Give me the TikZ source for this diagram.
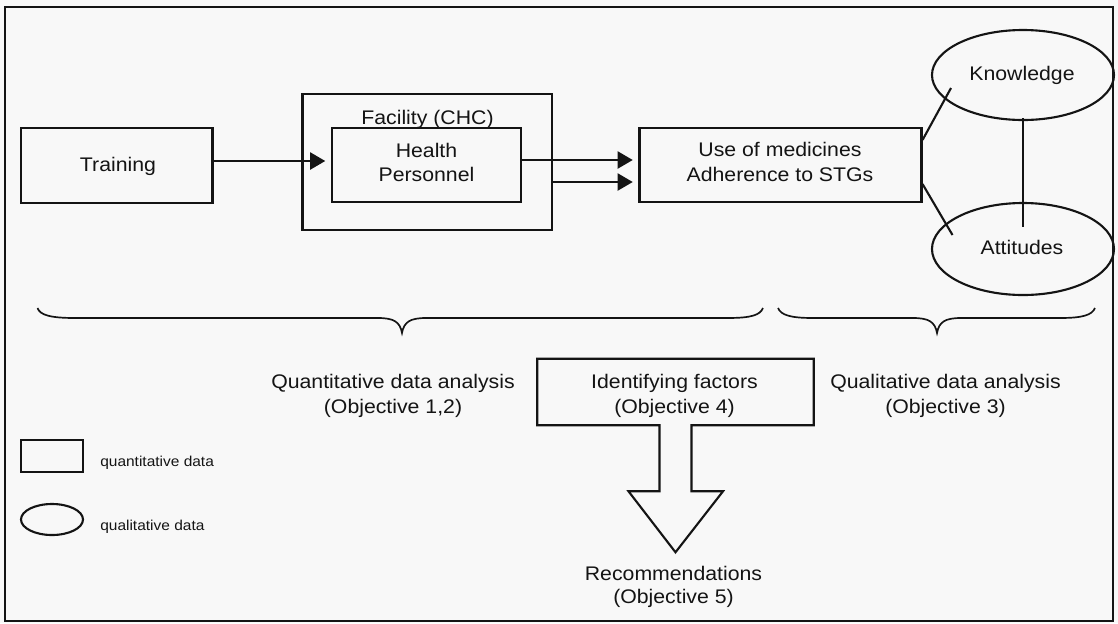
\documentclass[tikz,border=0pt]{standalone}
\usepackage{fontspec}
\setmainfont{Liberation Sans}[FakeStretch=1.08]
\usetikzlibrary{shapes.geometric,arrows.meta,calc}
\definecolor{ink}{RGB}{20,20,20}
\definecolor{paper}{RGB}{248,248,248}
\begin{document}
\begin{tikzpicture}[x=0.25mm,y=-0.25mm,
  line join=miter,
  ink/.style={draw=ink, line width=1.5pt},
  boxn/.style={ink, rectangle, inner sep=0pt},
  ell/.style={ink, ellipse, inner sep=0pt},
  txt/.style={anchor=base, inner sep=0pt, text=ink, font=\fontsize{14}{17}\selectfont},
  small/.style={anchor=base west, inner sep=0pt, text=ink, font=\fontsize{10.2}{12}\selectfont},
  arr/.style={draw=ink, line width=2.1pt, -{Triangle[length=3.8mm,width=4.2mm]}, shorten >=4pt},
  ln/.style={draw=ink, line width=1.5pt},
  brc/.style={draw=ink, line width=1.2pt}
]
\useasboundingbox (0,0) rectangle (1118,623);
\fill[paper] (0,0) rectangle (1118,623);
\draw[ink] (5,7) rectangle (1113,621);

% boxes
\node[boxn, minimum width=47.875mm, minimum height=18.75mm] (train) at (116.75,165.5) {};
\node[boxn, minimum width=62.375mm, minimum height=34mm] (fac) at (427.25,162) {};
\node[boxn, minimum width=47.25mm, minimum height=18.5mm] (hp) at (426.5,165) {};
\node[boxn, minimum width=70.5mm, minimum height=18.5mm] (use) at (780.5,165) {};
\node[ell, minimum width=45.5mm, minimum height=22.5mm] (know) at (1023,75) {};
\node[ell, minimum width=45.5mm, minimum height=23mm] (att) at (1023,249) {};
\node[rectangle, inner sep=0pt, minimum width=69mm, minimum height=16.5mm] (idf) at (675.5,392) {};
\node[boxn, minimum width=15.5mm, minimum height=8mm] (legrect) at (52,456) {};
\node[ell, minimum width=15.5mm, minimum height=7.75mm] (legell) at (52,519.5) {};

% texts
\node[txt] (train-t) at (118,171) {Training};
\node[txt] (fac-t) at (427.5,124) {Facility (CHC)};
\node[txt] (hp-t1) at (426.5,157.3) {Health};
\node[txt] (hp-t2) at (426.5,181) {Personnel};
\node[txt] (use-t1) at (780,156.7) {Use of medicines};
\node[txt] (use-t2) at (780,181) {Adherence to STGs};
\node[txt] (know-t) at (1022,80) {Knowledge};
\node[txt] (att-t) at (1022,254) {Attitudes};
\node[txt] (qn-t1) at (393,388) {Quantitative data analysis};
\node[txt] (qn-t2) at (393,413) {(Objective 1,2)};
\node[txt] (idf-t1) at (674.5,388) {Identifying factors};
\node[txt] (idf-t2) at (674.5,413) {(Objective 4)};
\node[txt] (ql-t1) at (945.5,388) {Qualitative data analysis};
\node[txt] (ql-t2) at (945.5,413) {(Objective 3)};
\node[txt] (rec-t1) at (673.5,580) {Recommendations};
\node[txt] (rec-t2) at (673.5,603) {(Objective 5)};
\node[small] (leg-t1) at (100,466.7) {quantitative data};
\node[small] (leg-t2) at (100,530) {qualitative data};

% identifying factors box with block arrow
\draw[ink] ($(idf.south)+(-16,0)$) -- (idf.south west) -- (idf.north west) -- (idf.north east) -- (idf.south east)
  -- ($(idf.south)+(16,0)$) -- ($(idf.south)+(16,66)$) -- ($(idf.south)+(47.5,66)$) -- ($(idf.south)+(0,127)$)
  -- ($(idf.south)+(-47,66)$) -- ($(idf.south)+(-16,66)$) -- cycle;

% arrows
\draw[arr] ($(train.east)+(0,-4.5)$) -- ($(hp.west)+(0,-4)$);
\draw[arr] ($(hp.east)+(0,-5)$) -- ($(use.west)+(0,-5)$);
\draw[arr] ($(fac.east)+(0,20)$) -- ($(use.west)+(0,17)$);

% lines to ellipses
\coordinate (k1) at ($(know.center)+(-72,13)$);
\coordinate (a1) at ($(att.center)+(-70.5,-14)$);
\coordinate (a2) at ($(att.north)+(0,25)$);
\draw[ln] ($(use.north east)+(0,13)$) -- (k1);
\draw[ln] ($(use.south east)+(0,-19)$) -- (a1);
\draw[ln] ($(know.south)+(0,-3)$) -- (a2);

% braces
\draw[brc] (37.5,308) .. controls (40,315) and (50,318) .. (75,318) -- (378,318)
  .. controls (394,318) and (400,322) .. (402,333)
  .. controls (404,322) and (410,318) .. (426,318) -- (727,318)
  .. controls (752,318) and (760,315) .. (763,308);
\draw[brc] (778,308) .. controls (781,315) and (790,318) .. (813,318) -- (913,318)
  .. controls (929,318) and (935,322) .. (937,333)
  .. controls (939,322) and (945,318) .. (961,318) -- (1060,318)
  .. controls (1083,318) and (1092,315) .. (1095,308);
\end{tikzpicture}
\end{document}
